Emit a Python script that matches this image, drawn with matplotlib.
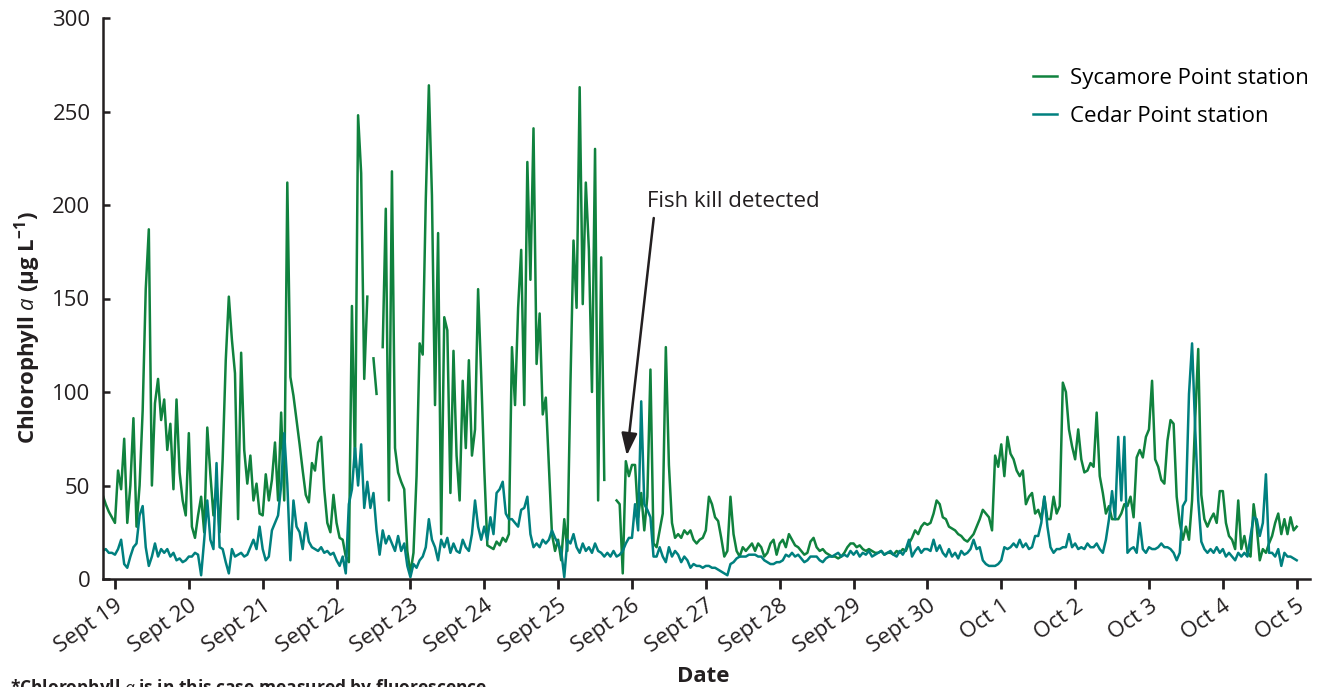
import numpy as np
import matplotlib.pyplot as plt
from matplotlib.transforms import ScaledTranslation

nan = np.nan

# hourly chlorophyll a readings (ug/L), first value is 20:00 on Sept 18
sycamore = [
    45, 40, 36, 33,  # Sept 18, 20-23h
    30, 58, 48, 75, 30, 50, 86, 28, 50, 90, 155, 187, 50, 94, 107, 85, 96, 69, 83, 48, 96, 57, 42, 34,  # Sept 19
    78, 28, 22, 34, 44, 25, 81, 56, 34, 51, 25, 64, 117, 151, 128, 110, 32, 121, 69, 51, 66, 42, 51, 35,  # Sept 20
    34, 56, 42, 53, 73, 42, 89, 42, 212, 108, 98, 85, 72, 58, 45, 41, 62, 58, 73, 76, 48, 30, 25, 45,  # Sept 21
    30, 22, 21, 12, 9, 146, 60, 248, 217, 107, 151, nan, 118, 99, nan, 124, 198, 42, 218, 70, 57, 52, 48, 15,  # Sept 22
    3, 14, 55, 126, 120, 203, 264, 205, 93, 185, 24, 140, 133, 46, 122, 66, 42, 106, 70, 117, 66, 80, 155, 109,  # Sept 23
    59, 18, 17, 16, 20, 18, 22, 20, 24, 124, 93, 145, 176, 93, 223, 160, 241, 115, 142, 88, 97, 61, 24, 15,  # Sept 24
    21, 10, 32, 15, 104, 181, 145, 263, 147, 212, 176, 100, 230, 42, 172, 53, nan, nan, nan, 42, 40, 3, 63, 55,  # Sept 25
    61, 61, 33, 46, 26, 44, 112, 19, 17, 26, 35, 124, 61, 30, 22, 24, 22, 26, 24, 26, 21, 19, 21, 22,  # Sept 26
    26, 44, 40, 33, 31, 22, 12, 15, 44, 24, 15, 12, 17, 15, 17, 19, 15, 19, 17, 12, 14, 19, 21, 13,  # Sept 27
    19, 21, 17, 24, 21, 18, 17, 15, 13, 14, 20, 22, 17, 15, 16, 14, 13, 12, 12, 11, 12, 14, 17, 19,  # Sept 28
    19, 17, 18, 16, 15, 16, 15, 14, 14, 15, 13, 14, 14, 13, 15, 14, 16, 15, 19, 22, 26, 24, 28, 30,  # Sept 29
    29, 30, 35, 42, 40, 33, 32, 28, 27, 26, 24, 23, 21, 20, 22, 24, 28, 32, 37, 35, 33, 26, 66, 60,  # Sept 30
    72, 55, 76, 67, 64, 58, 55, 58, 40, 44, 46, 35, 37, 32, 44, 32, 32, 44, 35, 39, 105, 100, 80, 71,  # Oct 1
    64, 80, 64, 57, 58, 62, 60, 89, 55, 46, 35, 39, 32, 32, 32, 35, 40, 39, 44, 33, 65, 69, 65, 76,  # Oct 2
    80, 106, 64, 60, 53, 51, 74, 85, 83, 44, 30, 21, 28, 21, 42, 85, 123, 45, 32, 28, 32, 35, 30, 47,  # Oct 3
    47, 30, 23, 21, 16, 42, 16, 23, 14, 12, 40, 28, 10, 16, 14, 19, 23, 30, 35, 24, 32, 24, 33, 26,  # Oct 4
    28,  # Oct 5
]

cedar = [
    15, 16, 14, 14,  # Sept 18, 20-23h
    13, 16, 21, 8, 6, 12, 17, 19, 34, 39, 17, 7, 12, 19, 12, 16, 14, 16, 12, 14, 10, 11, 9, 10,  # Sept 19
    12, 12, 14, 13, 2, 21, 42, 21, 16, 62, 17, 16, 9, 3, 16, 12, 13, 14, 12, 13, 17, 21, 16, 28,  # Sept 20
    16, 10, 12, 26, 30, 34, 50, 78, 51, 10, 42, 28, 25, 16, 30, 20, 17, 16, 15, 17, 14, 15, 13, 14,  # Sept 21
    10, 7, 12, 3, 40, 48, 70, 50, 72, 38, 52, 38, 46, 26, 13, 26, 19, 23, 19, 15, 23, 15, 19, 7,  # Sept 22
    1, 8, 6, 10, 12, 17, 32, 21, 17, 10, 21, 17, 22, 14, 19, 15, 14, 21, 17, 15, 24, 42, 28, 21,  # Sept 23
    28, 21, 33, 24, 46, 48, 52, 35, 32, 32, 30, 28, 37, 38, 44, 24, 17, 19, 17, 21, 19, 21, 26, 22,  # Sept 24
    19, 15, 1, 21, 19, 24, 17, 14, 19, 15, 17, 14, 19, 15, 14, 12, 14, 12, 15, 12, 13, 15, 19, 22,  # Sept 25
    22, 40, 26, 95, 40, 37, 33, 12, 12, 17, 12, 9, 17, 12, 15, 13, 9, 12, 10, 6, 8, 7, 7, 6,  # Sept 26
    7, 7, 6, 6, 5, 4, 3, 2, 8, 9, 11, 12, 12, 12, 13, 13, 13, 12, 12, 10, 9, 8, 8, 9,  # Sept 27
    9, 10, 13, 12, 14, 12, 13, 11, 9, 10, 12, 12, 12, 10, 9, 11, 12, 12, 13, 14, 12, 13, 12, 15,  # Sept 28
    13, 15, 12, 14, 13, 15, 12, 13, 14, 15, 13, 14, 15, 13, 12, 15, 13, 16, 21, 12, 15, 17, 14, 16,  # Sept 29
    16, 15, 21, 15, 18, 14, 12, 16, 12, 14, 11, 15, 13, 14, 16, 21, 16, 17, 10, 8, 7, 7, 7, 8,  # Sept 30
    10, 17, 16, 17, 19, 17, 21, 17, 19, 16, 17, 23, 23, 30, 44, 28, 17, 14, 16, 16, 17, 17, 24, 17,  # Oct 1
    19, 16, 17, 16, 19, 17, 17, 19, 16, 14, 21, 32, 47, 32, 76, 42, 76, 14, 16, 17, 14, 30, 16, 14,  # Oct 2
    17, 16, 16, 17, 19, 17, 17, 16, 14, 10, 14, 39, 42, 99, 126, 81, 42, 20, 16, 14, 16, 14, 17, 14,  # Oct 3
    16, 12, 14, 12, 10, 14, 12, 14, 12, 23, 33, 32, 23, 30, 56, 14, 14, 12, 16, 7, 14, 12, 12, 11,  # Oct 4
    10,  # Oct 5
]

day_labels = ["Sept 19", "Sept 20", "Sept 21", "Sept 22", "Sept 23", "Sept 24", "Sept 25",
              "Sept 26", "Sept 27", "Sept 28", "Sept 29", "Sept 30", "Oct 1", "Oct 2",
              "Oct 3", "Oct 4", "Oct 5"]

plt.rcParams['font.family'] = ['Open Sans', 'DejaVu Sans']
plt.rcParams['mathtext.fontset'] = 'custom'
plt.rcParams['mathtext.rm'] = 'Open Sans:bold'
plt.rcParams['mathtext.it'] = 'Open Sans:italic'

ink = '#231F20'
green = '#10823E'
teal = '#00807F'

# days since Sept 19 00:00
t = (np.arange(len(sycamore)) - 4) / 24

fig = plt.figure(figsize=(13.22, 6.87), dpi=100)
ax = fig.add_axes([103 / 1322, 1 - 579 / 687, 1207 / 1322, 561 / 687])

ax.plot(t, sycamore, color=green, lw=1.8, label='Sycamore Point station')
ax.plot(t, cedar, color=teal, lw=1.8, label='Cedar Point station')

ax.set_xlim(-0.162, 16.18)
ax.set_ylim(0, 300)
ax.set_yticks(range(0, 301, 50))
ax.set_xticks(np.arange(len(day_labels)))
ax.set_xticklabels(day_labels, rotation=35, ha='right', rotation_mode='anchor')

# nudge the slanted date labels a little to the right of their ticks
shift = ScaledTranslation(8 / 100, 0, fig.dpi_scale_trans)
for lab in ax.get_xticklabels():
    lab.set_transform(lab.get_transform() + shift)

for side in ['top', 'right']:
    ax.spines[side].set_visible(False)
for side in ['left', 'bottom']:
    ax.spines[side].set_linewidth(1.8)
    ax.spines[side].set_color(ink)

ax.tick_params(axis='y', direction='in', length=5, width=1.8, pad=9,
               labelsize=16, colors=ink)
ax.tick_params(axis='x', direction='out', length=7, width=2, pad=5,
               labelsize=16, colors=ink)

ax.legend(loc='upper left', bbox_to_anchor=(1033 / 1322, 1 - 68 / 687),
          bbox_transform=fig.transFigure, frameon=False, fontsize=16,
          handlelength=1.1, handletextpad=0.55, labelspacing=0.75,
          borderpad=0, borderaxespad=0)

ax.annotate('Fish kill detected', xy=(6.93, 66), xytext=(7.21, 196),
            ha='left', va='bottom', fontsize=16, color=ink,
            arrowprops=dict(arrowstyle='-|>,head_length=0.9,head_width=0.32',
                            color=ink, lw=1.8, shrinkA=2, shrinkB=0,
                            relpos=(0.04, 0), mutation_scale=15))

fig.text(28 / 1322, 1 - 328 / 687, r'Chlorophyll $a$ (µg L$^{-1}$)',
         rotation=90, ha='center', va='center', fontsize=16,
         fontweight='bold', color=ink)
fig.text(703 / 1322, 1 - 676 / 687, 'Date', ha='center', va='center',
         fontsize=16, fontweight='bold', color=ink)
fig.text(10 / 1322, 1 - 677 / 687,
         r'*Chlorophyll $a$ is in this case measured by fluorescence',
         ha='left', va='top', fontsize=12.5, fontweight='bold', color=ink)

fig.savefig('out.png', dpi=100)
